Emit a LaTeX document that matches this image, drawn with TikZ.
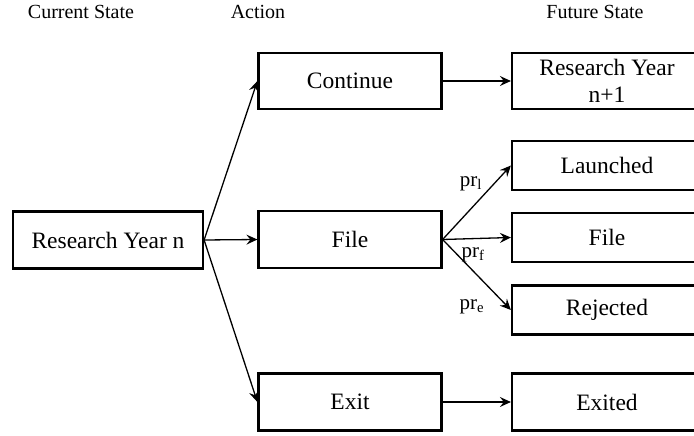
\documentclass[tikz,border=0pt]{standalone}
\usepackage{fontspec}
\setmainfont{Liberation Serif}
\usetikzlibrary{arrows.meta}
\tikzset{
  box/.style={draw, line width=2.2pt, inner sep=0pt, align=center,
    font=\fontsize{23.5}{27}\selectfont},
  title/.style={inner sep=0pt, font=\fontsize{20}{24}\selectfont},
  prob/.style={inner sep=0pt, font=\fontsize{21}{25}\selectfont},
  conn/.style={line width=1.3pt, -{Stealth[length=11pt,width=10pt,inset=4pt]}}
}
\begin{document}
\begin{tikzpicture}[x=1pt,y=-1pt]
\useasboundingbox (0,0) rectangle (694,436);
\clip (0,0) rectangle (694,436);
\node[title] (tcur) at (81,12) {Current State};
\node[title] (tact) at (258,12) {Action};
\node[title] (tfut) at (595,12) {Future State};
\node[box, minimum width=190pt, minimum height=57pt] (cur) at (108,240) {Research Year n};
\node[box, minimum width=183pt, minimum height=56pt] (cont) at (350,81) {Continue};
\node[box, minimum width=183pt, minimum height=57pt] (filea) at (350,239.5) {File};
\node[box, minimum width=183pt, minimum height=57pt] (exit) at (350,402) {Exit};
\node[box, minimum width=190pt, minimum height=56pt] (ry) at (607,81) {Research Year\\n+1};
\node[box, minimum width=190pt, minimum height=49pt] (launch) at (607,165.5) {Launched};
\node[box, minimum width=190pt, minimum height=49pt] (filer) at (607,237.5) {File};
\node[box, minimum width=190pt, minimum height=49pt] (rej) at (607,310) {Rejected};
\node[box, minimum width=190pt, minimum height=57pt] (exited) at (607,402) {Exited};
\draw[conn] (cur.east) -- (cont.west);
\draw[conn] (cur.east) -- (filea.west);
\draw[conn] (cur.east) -- (exit.west);
\draw[conn] (cont.east) -- (ry.west);
\draw[conn] (filea.east) -- (launch.west);
\draw[conn] (filea.east) -- (filer.west);
\draw[conn] (filea.east) -- (rej.west);
\draw[conn] (exit.east) -- (exited.west);
\node[prob] (pl) at (471,184) {pr\textsubscript{l}};
\node[prob] (pf) at (473,255) {pr\textsubscript{f}};
\node[prob] (pe) at (472,307) {pr\textsubscript{e}};
\end{tikzpicture}
\end{document}
